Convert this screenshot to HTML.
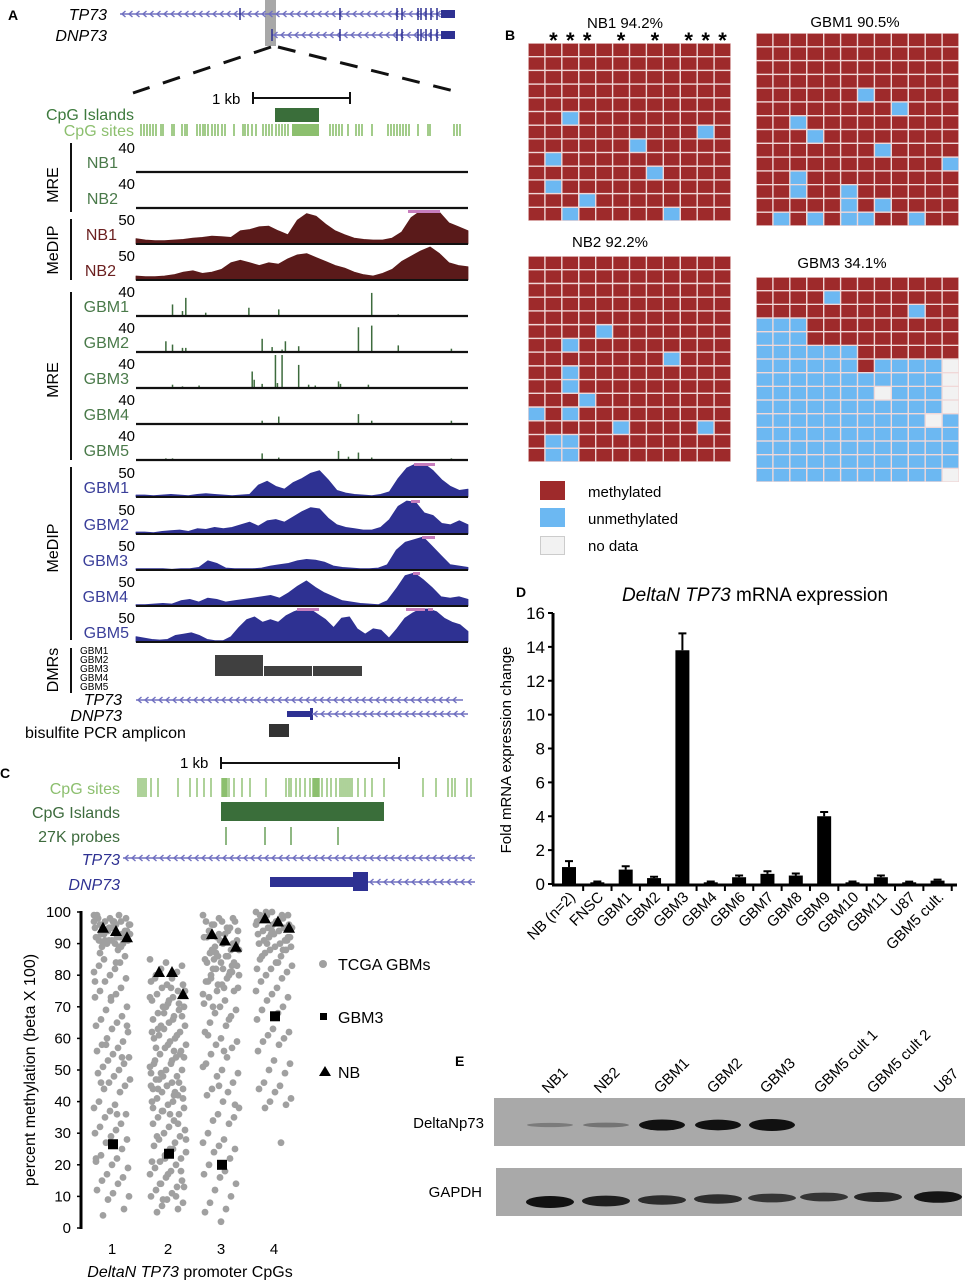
<!DOCTYPE html>
<html><head><meta charset="utf-8">
<style>
html,body{margin:0;padding:0;background:#fff;}
svg{display:block;font-family:"Liberation Sans",Arial,sans-serif;}
</style></head>
<body>
<svg id="fig" width="965" height="1280" viewBox="0 0 965 1280" xmlns="http://www.w3.org/2000/svg">
<g id="panelA">
<text x="8" y="20" font-size="14" font-weight="bold">A</text>
<text x="107" y="20" font-size="16" font-style="italic" text-anchor="end">TP73</text>
<text x="107" y="41" font-size="16" font-style="italic" text-anchor="end">DNP73</text>
<rect x="265" y="0" width="11" height="46" fill="#a8a8a8"/>
<line x1="271" y1="47" x2="133" y2="93" stroke="#111" stroke-width="3" stroke-dasharray="18,14"/>
<line x1="278" y1="47" x2="462" y2="93" stroke="#111" stroke-width="3" stroke-dasharray="18,14"/>
<text x="212" y="104" font-size="15">1 kb</text>
<path d="M253 98 H350 M253 92 V104 M350 92 V104" stroke="#111" stroke-width="2" fill="none"/>
<text x="134" y="120" font-size="16" fill="#3d7a3d" text-anchor="end">CpG Islands</text>
<rect x="275" y="108" width="44" height="14" fill="#3a6e3a"/>
<text x="134" y="136" font-size="16" fill="#8cbf6e" text-anchor="end">CpG sites</text>
<rect x="292" y="124" width="27" height="12" fill="#8cbf6e"/>
<g id="cpgTicksA"></g>
<g id="tracksA"></g>
<text transform="translate(58,185) rotate(-90)" font-size="16" text-anchor="middle">MRE</text>
<text transform="translate(58,250) rotate(-90)" font-size="16" text-anchor="middle">MeDIP</text>
<text transform="translate(58,380) rotate(-90)" font-size="16" text-anchor="middle">MRE</text>
<text transform="translate(58,548) rotate(-90)" font-size="16" text-anchor="middle">MeDIP</text>
<text transform="translate(58,670) rotate(-90)" font-size="16" text-anchor="middle">DMRs</text>
<path d="M71 143 V212 M71 219 V280 M71 292 V460 M71 467 V640 M71 648 V693" stroke="#111" stroke-width="2"/>
<g font-size="10">
<text x="80" y="654">GBM1</text><text x="80" y="663">GBM2</text><text x="80" y="672">GBM3</text><text x="80" y="681">GBM4</text><text x="80" y="690">GBM5</text>
</g>
<rect x="215" y="655" width="48" height="21" fill="#404040"/>
<rect x="264" y="666" width="48" height="10" fill="#404040"/>
<rect x="313" y="666" width="49" height="10" fill="#404040"/>
<text x="122" y="705" font-size="16" font-style="italic" text-anchor="end">TP73</text>
<text x="122" y="721" font-size="16" font-style="italic" text-anchor="end">DNP73</text>
<rect x="287" y="711" width="25" height="6" fill="#2e3192"/>
<rect x="310" y="708" width="3" height="12" fill="#2e3192"/>
<text x="25" y="738" font-size="16">bisulfite PCR amplicon</text>
<rect x="269" y="724" width="20" height="13" fill="#333"/>
</g>

<g id="panelC">
<text x="0" y="778" font-size="14" font-weight="bold">C</text>
<text x="180" y="768" font-size="15">1 kb</text>
<path d="M221 763 H399 M221 757 V769 M399 757 V769" stroke="#111" stroke-width="2" fill="none"/>
<text x="120" y="794" font-size="16" fill="#8cbf6e" text-anchor="end">CpG sites</text>
<g id="cpgTicksC"></g>
<text x="120" y="818" font-size="16" fill="#3d6b3d" text-anchor="end">CpG Islands</text>
<rect x="221" y="802" width="163" height="19" fill="#3a6e3a"/>
<text x="120" y="842" font-size="16" fill="#3d6b3d" text-anchor="end">27K probes</text>
<path d="M226 827 V845 M265 827 V845 M291 827 V845 M338 827 V845" stroke="#6aa05a" stroke-width="1.5"/>
<text x="120" y="865" font-size="16" font-style="italic" fill="#2e3192" text-anchor="end">TP73</text>
<text x="120" y="890" font-size="16" font-style="italic" fill="#2e3192" text-anchor="end">DNP73</text>
<rect x="270" y="877" width="85" height="10" fill="#2e3192"/>
<rect x="353" y="872" width="15" height="19" fill="#2e3192"/>
<g id="scatter"></g>
<text transform="translate(35,1070) rotate(-90)" font-size="16" text-anchor="middle">percent methylation (beta X 100)</text>
<text x="190" y="1277" font-size="16" text-anchor="middle"><tspan font-style="italic">DeltaN TP73</tspan> promoter CpGs</text>
<circle cx="323" cy="964" r="4" fill="#a0a0a0"/>
<text x="338" y="970" font-size="16">TCGA GBMs</text>
<rect x="320" y="1013" width="7" height="7" fill="#000"/>
<text x="338" y="1023" font-size="16">GBM3</text>
<path d="M319 1076 L325 1066 L331 1076 Z" fill="#000"/>
<text x="338" y="1078" font-size="16">NB</text>
</g>

<g id="panelB">
<text x="505" y="40" font-size="14" font-weight="bold">B</text>
<g id="grids"></g>
<rect x="540" y="481" width="25" height="19" fill="#9e2a2b"/>
<text x="588" y="497" font-size="15">methylated</text>
<rect x="540" y="508" width="25" height="19" fill="#6cb8f2"/>
<text x="588" y="524" font-size="15">unmethylated</text>
<rect x="540.5" y="536.5" width="24" height="18" fill="#f2f2f2" stroke="#ccc"/>
<text x="588" y="551" font-size="15">no data</text>
</g>

<g id="panelD">
<text x="516" y="597" font-size="14" font-weight="bold">D</text>
<text x="755" y="601" font-size="19" text-anchor="middle"><tspan font-style="italic">DeltaN TP73</tspan> mRNA expression</text>
<text transform="translate(511,750) rotate(-90)" font-size="15" text-anchor="middle">Fold mRNA expression change</text>
<g id="bars"></g>
</g>

<g id="panelE">
<text x="455" y="1066" font-size="14" font-weight="bold">E</text>
<rect x="494" y="1098" width="471" height="48" fill="#a9a9a9"/>
<rect x="496" y="1168" width="466" height="48" fill="#a9a9a9"/>
<text x="484" y="1128" font-size="15" text-anchor="end">DeltaNp73</text>
<text x="482" y="1197" font-size="15" text-anchor="end">GAPDH</text>
<g id="blot"></g>
</g>
</svg>
<script>
// ---------- data ----------
const barCategories = ["NB (n=2)","FNSC","GBM1","GBM2","GBM3","GBM4","GBM6","GBM7","GBM8","GBM9","GBM10","GBM11","U87","GBM5 cult."];
const barValues = [1.0,0.1,0.85,0.35,13.8,0.1,0.4,0.6,0.5,4.0,0.1,0.4,0.1,0.2];
const barErrors = [0.35,0.05,0.2,0.08,1.0,0.05,0.1,0.15,0.12,0.25,0.05,0.1,0.04,0.06];
const barTicks = [0,2,4,6,8,10,12,14,16];

const scatterTicks = [0,10,20,30,40,50,60,70,80,90,100];
const cpgLabels = ["1","2","3","4"];
const tcga1 = [99,98,98,97,97,96,96,95,95,94,94,93,93,92,92,91,91,90,90,89,88,99,97,96,94,92,90,89,98,95,93,91,86,85,84,83,82,81,80,79,78,76,75,74,73,72,70,69,67,66,65,64,63,62,60,59,58,57,56,55,54,53,52,51,50,49,48,47,46,45,44,43,40,39,38,37,36,35,33,32,31,30,29,28,27,25,23,22,21,20,19,17,16,15,14,12,11,10,9,6,4,99,98,97,96,95,94,93,92,91,90,97,95,93,91,89,87,84,78,73,64,58,54,46,36,22];
const tcga2 = [85,84,83,82,81,80,79,78,77,77,76,75,74,73,72,71,70,70,69,68,67,66,65,64,63,62,61,60,60,59,58,57,56,55,54,53,52,51,50,50,49,48,47,46,45,45,44,43,42,41,40,40,39,38,37,36,35,34,33,32,31,30,29,28,27,26,25,24,23,22,21,20,19,18,17,16,15,14,13,12,11,10,9,8,7,6,5,66,62,58,54,48,46,44,42,38,72,75,68,55,47,43,52,36,28,22,18,14,10,79,76,73,70,67,64,61,57,53,49,45,41,37,33,29,25,21,17,13,9,71,63,56,44];
const tcga3 = [99,98,97,96,95,94,93,92,91,90,89,88,87,86,85,84,83,82,81,80,79,78,77,76,75,98,96,94,92,90,88,86,84,82,80,78,76,74,93,89,85,81,73,72,71,70,69,68,67,65,64,62,60,59,58,57,55,54,52,50,49,48,46,44,43,42,40,38,36,35,34,33,30,28,27,26,25,24,22,20,18,17,16,14,12,10,8,6,5,2,91,87,83,79,95,97,97,94,92,90,88,86,84,82,80,77,75,70,66,61,56,51,45,39];
const tcga4 = [100,100,99,99,98,98,97,97,96,96,95,95,94,94,93,93,92,92,91,91,90,90,89,89,88,88,87,86,85,84,83,82,81,80,79,78,76,75,74,73,72,70,69,68,66,63,62,61,60,59,58,56,53,52,50,49,46,45,44,43,41,40,39,38,27,99,97,95,93,91,100,99,98,97,96,94,92,90,88,86,84,82];
const nbValues = [[95,94,92],[81,81,74],[93,91,89],[98,97,95]];
const gbm3Values = [26.5,23.5,20,67];

// bisulfite grids: M=methylated U=unmethylated N=no data
const gridNB1 = ["MMMMMMMMMMMM","MMMMMMMMMMMM","MMMMMMMMMMMM","MMMMMMMMMMMM","MMMMMMMMMMMM","MMUMMMMMMMMM","MMMMMMMMMMUM","MMMMMMUMMMMM","MUMMMMMMMMMM","MMMMMMMUMMMM","MUMMMMMMMMMM","MMMUMMMMMMMM","MMUMMMMMUMMM"];
const gridGBM1 = ["MMMMMMMMMMMM","MMMMMMMMMMMM","MMMMMMMMMMMM","MMMMMMMMMMMM","MMMMMMUMMMMM","MMMMMMMMUMMM","MMUMMMMMMMMM","MMMUMMMMMMMM","MMMMMMMUMMMM","MMMMMMMMMMMU","MMUMMMMMMMMM","MMUMMUMMMMMM","MMMMMUMUMMMM","MUMUMUUMMUMM"];
const gridNB2 = ["MMMMMMMMMMMM","MMMMMMMMMMMM","MMMMMMMMMMMM","MMMMMMMMMMMM","MMMMMMMMMMMM","MMMMUMMMMMMM","MMUMMMMMMMMM","MMMMMMMMUMMM","MMUMMMMMMMMM","MMUMMMMMMMMM","MMMUMMMMMMMM","UMUMMMMMMMMM","MMMMMUMMMMUM","MUUMMMMMMMMM","MUUMMMMMMMMM"];
const gridGBM3 = ["MMMMMMMMMMMM","MMMMUMMMMMMM","MMMMMMMMMUMM","UUUMMMMMMMMM","UUUMMMMMMMMM","UUUUUUMMMMMM","UUUUUUMUUUUN","UUUUUUUUUUUN","UUUUUUUNUUUN","UUUUUUUUUUUN","UUUUUUUUUUNU","UUUUUUUUUUUU","UUUUUUUUUUUU","UUUUUUUUUUUU","UUUUUUUUUUUN"];
const gridTitles = ["NB1 94.2%","GBM1 90.5%","NB2 92.2%","GBM3 34.1%"];

// MeDIP coverage profiles (0-50)
const medipNB1 = [8,6,5,5,6,7,9,10,12,11,10,20,22,26,27,20,14,36,46,42,30,20,14,9,7,6,6,9,18,40,50,50,48,32,26,20];
const medipNB2 = [6,5,5,6,8,12,14,10,12,16,26,30,26,22,26,24,32,38,40,34,28,22,18,12,8,6,10,16,28,36,44,50,40,26,22,20];
const medipGBM1 = [3,3,2,3,4,3,2,4,5,4,3,2,3,4,18,24,16,12,22,28,36,40,26,10,6,4,3,2,4,8,28,44,50,50,40,26,16,10,12];
const medipGBM2 = [3,3,2,4,5,6,4,8,7,10,8,10,14,18,12,20,22,18,26,34,40,38,24,14,10,8,6,6,10,22,42,50,48,32,28,16,14,20,14];
const medipGBM3 = [2,2,2,2,1,2,2,4,14,10,3,2,2,2,3,6,8,10,14,16,15,12,6,4,3,2,2,3,8,30,42,46,50,36,22,8,6,4];
const medipGBM4 = [2,2,3,4,3,8,10,6,12,10,6,8,10,12,14,16,12,20,30,38,28,20,14,8,6,4,3,2,8,26,46,50,40,28,14,12,14,10];
const medipGBM5 = [8,6,4,3,4,10,12,14,10,4,2,2,8,22,34,38,30,34,30,40,46,50,50,42,34,22,36,38,20,12,20,18,6,20,36,44,50,50,46,36,30,26,16];
// MRE spikes
const mrePosNB = [9,11];
const mreHNB = [1,1];
const mrePosGBM1 = [11,14,15,21,34,43,71,79];
const mreHGBM1 = [14,6,22,4,10,8,28,2];
const mrePosGBM2 = [9,11,14,15,38,41,44,45,49,67,71,79,95];
const mreHGBM2 = [13,9,5,5,16,6,3,13,7,30,32,8,4];
const mrePosGBM3 = [11,14,19,35,35.6,38,42,42.6,44,49,52,54,61,61.6,70,79,95];
const mreHGBM3 = [4,2,3,20,10,5,40,6,40,28,4,3,8,5,4,1,1];
const mrePosGBM4 = [9,11,14,38,43,61,67,71,95];
const mreHGBM4 = [1,1,1,4,9,1,12,4,4];
const mrePosGBM5 = [9,11,14,38,43,61,64,67,71,79,95];
const mreHGBM5 = [2,2,1,8,3,11,4,9,3,1,2];

// western band intensities (0-1)
const blotLanes = ["NB1","NB2","GBM1","GBM2","GBM3","GBM5 cult 1","GBM5 cult 2","U87"];
const dnp73Intensity = [0.15,0.2,0.9,0.85,1.0,0,0,0];
const gapdhIntensity = [1.0,0.85,0.7,0.7,0.6,0.6,0.75,0.95];

// ---------- helpers ----------
const NS = "http://www.w3.org/2000/svg";
function mk(parent, tag, attrs, text) {
  const el = document.createElementNS(NS, tag);
  for (const k in attrs) el.setAttribute(k, attrs[k]);
  if (text !== undefined) el.textContent = text;
  parent.appendChild(el);
  return el;
}
function geneLine(parent, x1, x2, y, name) {
  const g = mk(parent, "g", {});
  
  
  mk(g, "line", {x1:x1, y1:y, x2:x2, y2:y, stroke:"#7070c0", "stroke-width":1.5});
  let d = "";
  for (let x = x1 + 2; x < x2 - 3; x += 7) d += `M${x+3.5} ${y-3} L${x} ${y} L${x+3.5} ${y+3} `;
  mk(g, "path", {d:d, stroke:"#7070c0", "stroke-width":1.4, fill:"none"});
  return g;
}

// ---------- panel A ----------
const A = document.getElementById("tracksA");
const TX0 = 136, TX1 = 468;
const locusX = p => TX0 + p / 100 * (TX1 - TX0);

const topG = document.getElementById("panelA");
geneLine(topG, 120, 445, 14, "tp73-gene-model");
geneLine(topG, 272, 445, 35, "dnp73-gene-model");
const exTop = mk(topG, "path", {d:"M240 8V20 M340 8V20 M397 8V20 M402 8V20 M418 8V20 M421 8V20 M426 8V20 M431 8V20 M437 8V20 M272 29V41 M340 29V41 M397 29V41 M402 29V41 M418 29V41 M421 29V41 M426 29V41 M431 29V41 M437 29V41", stroke:"#2e3192", "stroke-width":1.5});


const ex1 = mk(topG, "rect", {x:441, y:10, width:14, height:8, fill:"#2e3192"});


const ex2 = mk(topG, "rect", {x:441, y:31, width:14, height:8, fill:"#2e3192"});



const cpgA = document.getElementById("cpgTicksA");
let dA = "";
[141,144,147,150,153,156,161,163,172,174,182,185,187,197,200,203,205,208,212,215,218,222,225,234,243,245,248,252,256,263,266,269,272,276,279,282,285,288,330,333,336,339,342,348,356,359,362,372,388,391,394,397,400,403,406,409,418,428,430,454,457,460].forEach(x=>{dA+=`M${x} 124V136 `;});
mk(cpgA, "path", {d:dA, stroke:"#8cbf6e", "stroke-width":1.6});
const cpgC = document.getElementById("cpgTicksC");
let dC = "";
[138,140,142,144,146,151,158,178,190,197,204,211,222,223,224,225,226,227,229,234,242,250,266,286,289,291,296,300,305,310,313,314,315,316,317,318,319,322,327,331,336,340,342,344,346,348,350,352,358,365,372,384,423,436,448,452,455,467,471].forEach(x=>{dC+=`M${x} 778V797 `;});
mk(cpgC, "path", {d:dC, stroke:"#8cbf6e", "stroke-width":1.4});

function labelTrack(base, num, name, color, nameX) {
  const n = mk(A, "text", {x:135, y:base-19, "font-size":15, "text-anchor":"end"}, num);
  
  
  const l = mk(A, "text", {x:nameX, y:base-4, "font-size":16, fill:color, "text-anchor":"end"}, name);
  
  
}
function mreTrack(base, pos, hs, name) {
  const g = mk(A, "g", {});
  
  
  const sc = 33 / 40;
  pos.forEach((p, i) => {
    const x = locusX(p);
    const s = mk(g, "line", {x1:x, x2:x, y1:base, y2:base - hs[i] * sc, stroke:"#3d6b3d", "stroke-width":1.5});
    
    
  });
  const b = mk(g, "line", {x1:TX0, x2:TX1, y1:base, y2:base, stroke:"#111", "stroke-width":2.2});
  
  
}
function medipTrack(base, vals, name, color, pinks) {
  const g = mk(A, "g", {});
  
  
  const sc = 33 / 50;
  const n = vals.length;
  let d = `M${TX0} ${base} `;
  vals.forEach((v, i) => { d += `L${(TX0 + i / (n - 1) * (TX1 - TX0)).toFixed(1)} ${(base - v * sc).toFixed(1)} `; });
  d += `L${TX1} ${base} Z`;
  const p = mk(g, "path", {d:d, fill:color, stroke:color, "stroke-width":0.8, "stroke-linejoin":"round"});
  
  
  (pinks || []).forEach(([a, b]) => {
    const r = mk(g, "rect", {x:a, y:base - 34, width:b - a, height:3, fill:"#c77dbd"});
    
    
  });
  const bl = mk(g, "line", {x1:TX0, x2:TX1, y1:base, y2:base, stroke:"#111", "stroke-width":2});
  
  
}
const MREc = "#4a7a4a", NBc = "#6b1f1f", GBc = "#3a3f9a";
mreTrack(172, mrePosNB, mreHNB, "mre-nb1-track"); labelTrack(172, "40", "NB1", MREc, 118);
mreTrack(208, mrePosNB, mreHNB, "mre-nb2-track"); labelTrack(208, "40", "NB2", MREc, 118);
medipTrack(244, medipNB1, "medip-nb1-track", "#5a1a1a", [[408,440]]); labelTrack(244, "50", "NB1", NBc, 117);
medipTrack(280, medipNB2, "medip-nb2-track", "#5a1a1a", []); labelTrack(280, "50", "NB2", NBc, 116);
mreTrack(316, mrePosGBM1, mreHGBM1, "mre-gbm1-track"); labelTrack(316, "40", "GBM1", MREc, 129);
mreTrack(352, mrePosGBM2, mreHGBM2, "mre-gbm2-track"); labelTrack(352, "40", "GBM2", MREc, 129);
mreTrack(388, mrePosGBM3, mreHGBM3, "mre-gbm3-track"); labelTrack(388, "40", "GBM3", MREc, 129);
mreTrack(424, mrePosGBM4, mreHGBM4, "mre-gbm4-track"); labelTrack(424, "40", "GBM4", MREc, 129);
mreTrack(460, mrePosGBM5, mreHGBM5, "mre-gbm5-track"); labelTrack(460, "40", "GBM5", MREc, 129);
medipTrack(497, medipGBM1, "medip-gbm1-track", "#2e3192", [[414,435]]); labelTrack(497, "50", "GBM1", GBc, 129);
medipTrack(534, medipGBM2, "medip-gbm2-track", "#2e3192", [[411,420]]); labelTrack(534, "50", "GBM2", GBc, 129);
medipTrack(570, medipGBM3, "medip-gbm3-track", "#2e3192", [[422,435]]); labelTrack(570, "50", "GBM3", GBc, 128);
medipTrack(606, medipGBM4, "medip-gbm4-track", "#2e3192", [[413,420]]); labelTrack(606, "50", "GBM4", GBc, 128);
medipTrack(642, medipGBM5, "medip-gbm5-track", "#2e3192", [[297,319],[406,425],[428,433]]); labelTrack(642, "50", "GBM5", GBc, 129);
geneLine(topG, 136, 463, 700, "tp73-track");
geneLine(topG, 312, 468, 714, "dnp73-track");
const pc = document.getElementById("panelC");
geneLine(pc, 123, 475, 858, "tp73-track-c");
geneLine(pc, 368, 475, 882, "dnp73-track-c");

// ---------- panel C scatter ----------
const S = document.getElementById("scatter");
const sy = v => 1228 - v * 3.16;
const colX = [112, 168, 221, 274];
const ax = mk(S, "line", {x1:81, x2:81, y1:sy(0)+1, y2:sy(100)-1, stroke:"#000", "stroke-width":3});


scatterTicks.forEach(t => {
  const tk = mk(S, "line", {x1:77, x2:81, y1:sy(t), y2:sy(t), stroke:"#000", "stroke-width":1.5});
  
  
  const tl = mk(S, "text", {x:71, y:sy(t)+5, "font-size":15, "text-anchor":"end"}, String(t));
  
  
});
cpgLabels.forEach((c, i) => {
  const tl = mk(S, "text", {x:colX[i], y:1254, "font-size":15, "text-anchor":"middle"}, c);
  
  
});
[tcga1, tcga2, tcga3, tcga4].forEach((arr, c) => {
  arr.forEach((v, i) => {
    const jx = ((i * 53) % 37) - 18;
    const dot = mk(S, "circle", {cx:colX[c] + jx, cy:sy(v), r:3.4, fill:"#a0a0a0"});
    
    
  });
});
const nbOff = [-9, 4, 15];
nbValues.forEach((vals, c) => {
  vals.forEach((v, k) => {
    const x = colX[c] + nbOff[k], y = sy(v);
    const t = mk(S, "path", {d:`M${x-6} ${y+5} L${x} ${y-6} L${x+6} ${y+5} Z`, fill:"#000"});
    
    
  });
});
gbm3Values.forEach((v, c) => {
  const r = mk(S, "rect", {x:colX[c] + 1 - 5, y:sy(v) - 5, width:10, height:10, fill:"#000"});
  
  
});

// ---------- panel B grids ----------
const G = document.getElementById("grids");
const colors = {M:"#9e2a2b", U:"#6cb8f2", N:"#f2f2f2"};
function grid(rows, x0, y0, w, h, title, tx, ty, name) {
  const g = mk(G, "g", {});
  
  
  const t = mk(g, "text", {x:tx, y:ty, "font-size":15, "text-anchor":"middle"}, title);
  
  
  mk(g, "rect", {x:x0, y:y0, width:w, height:h, fill:"#f0d8d8"});
  const cw = w / 12, ch = h / rows.length;
  rows.forEach((row, r) => {
    [...row].forEach((s, c) => {
      const cell = mk(g, "rect", {x:(x0 + c * cw + 0.7).toFixed(1), y:(y0 + r * ch + 0.7).toFixed(1), width:(cw - 1.4).toFixed(1), height:(ch - 1.4).toFixed(1), fill:colors[s]});
      
      
    });
  });
}
grid(gridNB1, 528, 43, 203, 178, gridTitles[0], 625, 28, "nb1-grid");
grid(gridGBM1, 756, 33, 203, 193, gridTitles[1], 855, 27, "gbm1-grid");
grid(gridNB2, 528, 256, 203, 206, gridTitles[2], 610, 247, "nb2-grid");
grid(gridGBM3, 756, 277, 203, 205, gridTitles[3], 842, 268, "gbm3-grid");
[1,2,3,5,7,9,10,11].forEach(c => {
  const s = mk(G, "text", {x:528 + (c + 0.5) * 203 / 12, y:48, "font-size":22, "font-weight":"bold", "text-anchor":"middle"}, "*");
  
  
});

// ---------- panel D bars ----------
const B = document.getElementById("bars");
const by = v => 884 - v * (271 / 16);
const step = 28.35, bx0 = 569;
const bxc = i => bx0 + i * step;
const yax = mk(B, "line", {x1:553, x2:553, y1:885, y2:by(16), stroke:"#000", "stroke-width":3});


const xax = mk(B, "line", {x1:552, x2:957, y1:885, y2:885, stroke:"#000", "stroke-width":3});


barTicks.forEach(t => {
  const tk = mk(B, "line", {x1:548, x2:553, y1:by(t), y2:by(t), stroke:"#000", "stroke-width":2});
  
  
  const tl = mk(B, "text", {x:545, y:by(t)+6, "font-size":17, "text-anchor":"end"}, String(t));
  
  
});
barCategories.forEach((c, i) => {
  const x = bxc(i);
  const tk = mk(B, "line", {x1:x + step/2, x2:x + step/2, y1:885, y2:891, stroke:"#000", "stroke-width":2});
  
  
  const top = by(barValues[i] + barErrors[i]);
  const e = mk(B, "path", {d:`M${x} ${by(barValues[i])} V${top} M${x-4} ${top} H${x+4}`, stroke:"#000", "stroke-width":2});
  
  
  const r = mk(B, "rect", {x:x - 7, y:by(barValues[i]), width:14, height:884 - by(barValues[i]), fill:"#000"});
  
  
  const tl = mk(B, "text", {transform:`translate(${x + 7},${898}) rotate(-45)`, "font-size":15, "text-anchor":"end"}, c);
  
  
});

// ---------- panel E blot ----------
const E = document.getElementById("blot");
const laneX = [538, 594, 650, 706, 760, 812, 866, 926];
const labelX = [548, 600, 660, 713, 766, 820, 873, 940];
blotLanes.forEach((l, i) => {
  const t = mk(E, "text", {transform:`translate(${labelX[i]},${1094}) rotate(-45)`, "font-size":15}, l);
  
  
  const a = dnp73Intensity[i];
  if (a > 0) {
    const b1 = mk(E, "ellipse", {cx:laneX[i] + 12, cy:1125, rx:23, ry:1.5 + 4.5 * a, fill:"#111", opacity:Math.min(1, 0.15 + a)});
    
    
  }
  const g2 = gapdhIntensity[i];
  const b2 = mk(E, "ellipse", {cx:laneX[i] + 12, cy:1202 - Math.min(i, 5), rx:24, ry:2 + 4 * g2, fill:"#111", opacity:0.4 + 0.6 * g2});
  
  
});
</script>
</body></html>
